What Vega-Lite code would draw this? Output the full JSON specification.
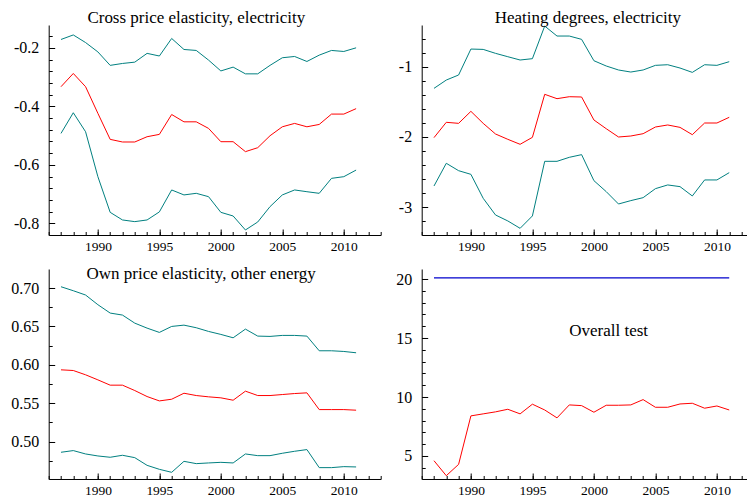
{
  "$schema": "https://vega.github.io/schema/vega-lite/v6.json",
  "padding": {"left": 10.7, "top": 8, "right": 0, "bottom": 0},
  "background": "white",
  "config": {
    "view": {"stroke": null},
    "font": "Liberation Serif",
    "style": {"guide-label": {"font": "Liberation Serif", "fill": "black"}},
    "axis": {"labelFont": "Liberation Serif", "labelColor": "black", "tickColor": "black", "domainColor": "black", "grid": false, "labelFontSize": 16, "tickWidth": 1, "domainWidth": 1, "title": null, "labelFlush": false, "labelOverlap": false},
    "axisX": {"labelFontSize": 13.5, "labelFont": "Liberation Serif"},
    "axisY": {"labelFont": "Liberation Serif"},
    "text": {"font": "Liberation Serif", "fontSize": 17, "color": "black"}
  },
  "bounds": "flush",
  "columns": 2,
  "spacing": {"row": 34, "column": 41},
  "datasets": {
    "p1": [
      {"year": 1987, "upper": -0.1715, "est": -0.333, "lower": -0.4926},
      {"year": 1988, "upper": -0.156, "est": -0.2877, "lower": -0.422},
      {"year": 1989, "upper": -0.182, "est": -0.333, "lower": -0.487},
      {"year": 1990, "upper": -0.214, "est": -0.424, "lower": -0.6406},
      {"year": 1991, "upper": -0.26, "est": -0.513, "lower": -0.7625},
      {"year": 1992, "upper": -0.2535, "est": -0.522, "lower": -0.7886},
      {"year": 1993, "upper": -0.249, "est": -0.522, "lower": -0.7943},
      {"year": 1994, "upper": -0.219, "est": -0.504, "lower": -0.7886},
      {"year": 1995, "upper": -0.228, "est": -0.496, "lower": -0.761},
      {"year": 1996, "upper": -0.168, "est": -0.428, "lower": -0.686},
      {"year": 1997, "upper": -0.2057, "est": -0.453, "lower": -0.703},
      {"year": 1998, "upper": -0.209, "est": -0.453, "lower": -0.6975},
      {"year": 1999, "upper": -0.242, "est": -0.4755, "lower": -0.709},
      {"year": 2000, "upper": -0.279, "est": -0.521, "lower": -0.7625},
      {"year": 2001, "upper": -0.266, "est": -0.521, "lower": -0.775},
      {"year": 2002, "upper": -0.289, "est": -0.555, "lower": -0.8228},
      {"year": 2003, "upper": -0.289, "est": -0.5415, "lower": -0.7955},
      {"year": 2004, "upper": -0.26, "est": -0.5006, "lower": -0.743},
      {"year": 2005, "upper": -0.234, "est": -0.47, "lower": -0.703},
      {"year": 2006, "upper": -0.2296, "est": -0.4585, "lower": -0.686},
      {"year": 2007, "upper": -0.2467, "est": -0.47, "lower": -0.692},
      {"year": 2008, "upper": -0.225, "est": -0.462, "lower": -0.6975},
      {"year": 2009, "upper": -0.209, "est": -0.4266, "lower": -0.6463},
      {"year": 2010, "upper": -0.2125, "est": -0.4266, "lower": -0.6406},
      {"year": 2011, "upper": -0.2, "est": -0.408, "lower": -0.618}
    ],
    "p2": [
      {"year": 1987, "upper": -1.308, "est": -2.009, "lower": -2.697},
      {"year": 1988, "upper": -1.19, "est": -1.791, "lower": -2.374},
      {"year": 1989, "upper": -1.118, "est": -1.806, "lower": -2.479},
      {"year": 1990, "upper": -0.749, "est": -1.635, "lower": -2.531},
      {"year": 1991, "upper": -0.754, "est": -1.806, "lower": -2.872},
      {"year": 1992, "upper": -0.81, "est": -1.957, "lower": -3.109},
      {"year": 1993, "upper": -0.858, "est": -2.033, "lower": -3.194},
      {"year": 1994, "upper": -0.905, "est": -2.104, "lower": -3.299},
      {"year": 1995, "upper": -0.886, "est": -2.005, "lower": -3.123},
      {"year": 1996, "upper": -0.422, "est": -1.393, "lower": -2.346},
      {"year": 1997, "upper": -0.564, "est": -1.455, "lower": -2.346},
      {"year": 1998, "upper": -0.564, "est": -1.427, "lower": -2.289},
      {"year": 1999, "upper": -0.611, "est": -1.431, "lower": -2.251},
      {"year": 2000, "upper": -0.915, "est": -1.758, "lower": -2.621},
      {"year": 2001, "upper": -0.99, "est": -1.882, "lower": -2.777},
      {"year": 2002, "upper": -1.047, "est": -2.0, "lower": -2.953},
      {"year": 2003, "upper": -1.076, "est": -1.986, "lower": -2.905},
      {"year": 2004, "upper": -1.047, "est": -1.953, "lower": -2.863},
      {"year": 2005, "upper": -0.981, "est": -1.858, "lower": -2.735},
      {"year": 2006, "upper": -0.972, "est": -1.829, "lower": -2.682},
      {"year": 2007, "upper": -1.019, "est": -1.863, "lower": -2.706},
      {"year": 2008, "upper": -1.081, "est": -1.967, "lower": -2.839},
      {"year": 2009, "upper": -0.972, "est": -1.801, "lower": -2.611},
      {"year": 2010, "upper": -0.981, "est": -1.801, "lower": -2.611},
      {"year": 2011, "upper": -0.929, "est": -1.72, "lower": -2.507}
    ],
    "p3": [
      {"year": 1987, "upper": 0.7017, "est": 0.5935, "lower": 0.4861},
      {"year": 1988, "upper": 0.6965, "est": 0.5926, "lower": 0.4883},
      {"year": 1989, "upper": 0.6909, "est": 0.587, "lower": 0.4839},
      {"year": 1990, "upper": 0.6783, "est": 0.5804, "lower": 0.4813},
      {"year": 1991, "upper": 0.6674, "est": 0.5735, "lower": 0.4796},
      {"year": 1992, "upper": 0.6648, "est": 0.5735, "lower": 0.4822},
      {"year": 1993, "upper": 0.6543, "est": 0.5665, "lower": 0.4791},
      {"year": 1994, "upper": 0.6478, "est": 0.5587, "lower": 0.4691},
      {"year": 1995, "upper": 0.6422, "est": 0.553, "lower": 0.4639},
      {"year": 1996, "upper": 0.65, "est": 0.5552, "lower": 0.46},
      {"year": 1997, "upper": 0.6517, "est": 0.563, "lower": 0.4743},
      {"year": 1998, "upper": 0.6483, "est": 0.56, "lower": 0.4713},
      {"year": 1999, "upper": 0.6435, "est": 0.5583, "lower": 0.4722},
      {"year": 2000, "upper": 0.6396, "est": 0.557, "lower": 0.473},
      {"year": 2001, "upper": 0.6352, "est": 0.5539, "lower": 0.4722},
      {"year": 2002, "upper": 0.6465, "est": 0.5657, "lower": 0.4839},
      {"year": 2003, "upper": 0.6374, "est": 0.56, "lower": 0.4817},
      {"year": 2004, "upper": 0.637, "est": 0.56, "lower": 0.4817},
      {"year": 2005, "upper": 0.6383, "est": 0.5613, "lower": 0.4848},
      {"year": 2006, "upper": 0.6383, "est": 0.5626, "lower": 0.4874},
      {"year": 2007, "upper": 0.6374, "est": 0.5635, "lower": 0.4896},
      {"year": 2008, "upper": 0.6183, "est": 0.5417, "lower": 0.4661},
      {"year": 2009, "upper": 0.6183, "est": 0.5417, "lower": 0.4661},
      {"year": 2010, "upper": 0.6174, "est": 0.5417, "lower": 0.4674},
      {"year": 2011, "upper": 0.6157, "est": 0.5409, "lower": 0.467}
    ],
    "p4": [
      {"year": 1987, "stat": 4.6, "crit": 20.09},
      {"year": 1988, "stat": 3.33, "crit": 20.09},
      {"year": 1989, "stat": 4.29, "crit": 20.09},
      {"year": 1990, "stat": 8.4, "crit": 20.09},
      {"year": 1991, "stat": 8.57, "crit": 20.09},
      {"year": 1992, "stat": 8.74, "crit": 20.09},
      {"year": 1993, "stat": 8.96, "crit": 20.09},
      {"year": 1994, "stat": 8.57, "crit": 20.09},
      {"year": 1995, "stat": 9.39, "crit": 20.09},
      {"year": 1996, "stat": 8.9, "crit": 20.09},
      {"year": 1997, "stat": 8.23, "crit": 20.09},
      {"year": 1998, "stat": 9.33, "crit": 20.09},
      {"year": 1999, "stat": 9.27, "crit": 20.09},
      {"year": 2000, "stat": 8.71, "crit": 20.09},
      {"year": 2001, "stat": 9.3, "crit": 20.09},
      {"year": 2002, "stat": 9.3, "crit": 20.09},
      {"year": 2003, "stat": 9.33, "crit": 20.09},
      {"year": 2004, "stat": 9.78, "crit": 20.09},
      {"year": 2005, "stat": 9.13, "crit": 20.09},
      {"year": 2006, "stat": 9.13, "crit": 20.09},
      {"year": 2007, "stat": 9.41, "crit": 20.09},
      {"year": 2008, "stat": 9.47, "crit": 20.09},
      {"year": 2009, "stat": 9.05, "crit": 20.09},
      {"year": 2010, "stat": 9.24, "crit": 20.09},
      {"year": 2011, "stat": 8.9, "crit": 20.09}
    ]
  },
  "concat": [
    {
      "width": 332, "height": 210,
      "data": {"name": "p1"},
      "resolve": {"axis": {"x": "independent", "y": "independent"}},
      "layer": [
        {
          "transform": [{"fold": ["upper", "lower"], "as": ["band", "bval"]}],
          "mark": {"type": "line", "color": "#008080", "strokeWidth": 1},
          "encoding": {
            "x": {"field": "year", "type": "quantitative", "scale": {"domain": [1986, 2013], "nice": false, "zero": false},
              "axis": {"orient": "bottom", "values": [1986,1987,1988,1989,1990,1991,1992,1993,1994,1995,1996,1997,1998,1999,2000,2001,2002,2003,2004,2005,2006,2007,2008,2009,2010,2011,2012,2013], "labels": false, "tickSize": -3.5}},
            "y": {"field": "bval", "type": "quantitative", "scale": {"domain": [-0.84, -0.122], "nice": false, "zero": false},
              "axis": {"orient": "left", "values": [-0.8,-0.76,-0.72,-0.68,-0.64,-0.6,-0.56,-0.52,-0.48,-0.44,-0.4,-0.36,-0.32,-0.28,-0.24,-0.2,-0.16], "labels": false, "tickSize": -3.5}},
            "detail": {"field": "band"}
          }
        },
        {
          "mark": {"type": "line", "color": "#ff0000", "strokeWidth": 1},
          "encoding": {
            "x": {"field": "year", "type": "quantitative", "scale": {"domain": [1986, 2013], "nice": false, "zero": false},
              "axis": {"orient": "bottom", "values": [1990, 1995, 2000, 2005, 2010], "tickSize": -6, "domain": false, "labelPadding": 11, "labelFont": "Liberation Serif", "labelFontSize": 13.5, "labelExpr": "'' + datum.value"}},
            "y": {"field": "est", "type": "quantitative", "scale": {"domain": [-0.84, -0.122], "nice": false, "zero": false},
              "axis": {"orient": "left", "values": [-0.8, -0.6, -0.4, -0.2], "tickSize": -6, "domain": false, "labelPadding": 16, "labelFont": "Liberation Serif", "labelFontSize": 16, "labelExpr": "'' + datum.value"}}
          }
        },
        {
          "data": {"values": [{"year": 1998.0, "value": -0.1146, "label": "Cross price elasticity, electricity"}]},
          "mark": {"type": "text", "align": "center", "baseline": "alphabetic", "font": "Liberation Serif", "fontSize": 17},
          "encoding": {
            "x": {"field": "year", "type": "quantitative", "scale": {"domain": [1986, 2013], "nice": false, "zero": false}, "axis": null},
            "y": {"field": "value", "type": "quantitative", "scale": {"domain": [-0.84, -0.122], "nice": false, "zero": false}, "axis": null},
            "text": {"field": "label"}
          }
        }
      ]
    },
    {
      "width": 325, "height": 210,
      "data": {"name": "p2"},
      "resolve": {"axis": {"x": "independent", "y": "independent"}},
      "layer": [
        {
          "transform": [{"fold": ["upper", "lower"], "as": ["band", "bval"]}],
          "mark": {"type": "line", "color": "#008080", "strokeWidth": 1},
          "encoding": {
            "x": {"field": "year", "type": "quantitative", "scale": {"domain": [1986, 2012.42], "nice": false, "zero": false},
              "axis": {"orient": "bottom", "values": [1986,1987,1988,1989,1990,1991,1992,1993,1994,1995,1996,1997,1998,1999,2000,2001,2002,2003,2004,2005,2006,2007,2008,2009,2010,2011,2012], "labels": false, "tickSize": -3.5}},
            "y": {"field": "bval", "type": "quantitative", "scale": {"domain": [-3.394, -0.407], "nice": false, "zero": false},
              "axis": {"orient": "left", "values": [-3.2,-3,-2.8,-2.6,-2.4,-2.2,-2,-1.8,-1.6,-1.4,-1.2,-1,-0.8,-0.6], "labels": false, "tickSize": -3.5}},
            "detail": {"field": "band"}
          }
        },
        {
          "mark": {"type": "line", "color": "#ff0000", "strokeWidth": 1},
          "encoding": {
            "x": {"field": "year", "type": "quantitative", "scale": {"domain": [1986, 2012.42], "nice": false, "zero": false},
              "axis": {"orient": "bottom", "values": [1990, 1995, 2000, 2005, 2010], "tickSize": -6, "domain": false, "labelPadding": 11, "labelFont": "Liberation Serif", "labelFontSize": 13.5, "labelExpr": "'' + datum.value"}},
            "y": {"field": "est", "type": "quantitative", "scale": {"domain": [-3.394, -0.407], "nice": false, "zero": false},
              "axis": {"orient": "left", "values": [-3, -2, -1], "tickSize": -6, "domain": false, "labelPadding": 16, "labelFont": "Liberation Serif", "labelFontSize": 16, "labelExpr": "'' + datum.value"}}
          }
        },
        {
          "data": {"values": [{"year": 1999.5, "value": -0.374, "label": "Heating degrees, electricity"}]},
          "mark": {"type": "text", "align": "center", "baseline": "alphabetic", "font": "Liberation Serif", "fontSize": 17},
          "encoding": {
            "x": {"field": "year", "type": "quantitative", "scale": {"domain": [1986, 2012.42], "nice": false, "zero": false}, "axis": null},
            "y": {"field": "value", "type": "quantitative", "scale": {"domain": [-3.394, -0.407], "nice": false, "zero": false}, "axis": null},
            "text": {"field": "label"}
          }
        }
      ]
    },
    {
      "width": 332, "height": 210,
      "data": {"name": "p3"},
      "resolve": {"axis": {"x": "independent", "y": "independent"}},
      "layer": [
        {
          "transform": [{"fold": ["upper", "lower"], "as": ["band", "bval"]}],
          "mark": {"type": "line", "color": "#008080", "strokeWidth": 1},
          "encoding": {
            "x": {"field": "year", "type": "quantitative", "scale": {"domain": [1986, 2013], "nice": false, "zero": false},
              "axis": {"orient": "bottom", "values": [1986,1987,1988,1989,1990,1991,1992,1993,1994,1995,1996,1997,1998,1999,2000,2001,2002,2003,2004,2005,2006,2007,2008,2009,2010,2011,2012,2013], "labels": false, "tickSize": -3.5}},
            "y": {"field": "bval", "type": "quantitative", "scale": {"domain": [0.4513, 0.7248], "nice": false, "zero": false},
              "axis": {"orient": "left", "values": [0.475,0.5,0.525,0.55,0.575,0.6,0.625,0.65,0.675,0.7], "labels": false, "tickSize": -3.5}},
            "detail": {"field": "band"}
          }
        },
        {
          "mark": {"type": "line", "color": "#ff0000", "strokeWidth": 1},
          "encoding": {
            "x": {"field": "year", "type": "quantitative", "scale": {"domain": [1986, 2013], "nice": false, "zero": false},
              "axis": {"orient": "bottom", "values": [1990, 1995, 2000, 2005, 2010], "tickSize": -6, "domain": false, "labelPadding": 11, "labelFont": "Liberation Serif", "labelFontSize": 13.5, "labelExpr": "'' + datum.value"}},
            "y": {"field": "est", "type": "quantitative", "scale": {"domain": [0.4513, 0.7248], "nice": false, "zero": false},
              "axis": {"orient": "left", "values": [0.5, 0.55, 0.6, 0.65, 0.7], "tickSize": -6, "domain": false, "labelPadding": 16, "labelFont": "Liberation Serif", "labelFontSize": 16, "labelExpr": "format(datum.value, '.2f')"}}
          }
        },
        {
          "data": {"values": [{"year": 1998.4, "value": 0.7117, "label": "Own price elasticity, other energy"}]},
          "mark": {"type": "text", "align": "center", "baseline": "alphabetic", "font": "Liberation Serif", "fontSize": 17},
          "encoding": {
            "x": {"field": "year", "type": "quantitative", "scale": {"domain": [1986, 2013], "nice": false, "zero": false}, "axis": null},
            "y": {"field": "value", "type": "quantitative", "scale": {"domain": [0.4513, 0.7248], "nice": false, "zero": false}, "axis": null},
            "text": {"field": "label"}
          }
        }
      ]
    },
    {
      "width": 325, "height": 210,
      "data": {"name": "p4"},
      "resolve": {"axis": {"x": "independent", "y": "independent"}},
      "layer": [
        {
          "mark": {"type": "line", "color": "#0000cc", "strokeWidth": 1.2},
          "encoding": {
            "x": {"field": "year", "type": "quantitative", "scale": {"domain": [1986, 2012.42], "nice": false, "zero": false},
              "axis": {"orient": "bottom", "values": [1986,1987,1988,1989,1990,1991,1992,1993,1994,1995,1996,1997,1998,1999,2000,2001,2002,2003,2004,2005,2006,2007,2008,2009,2010,2011,2012], "labels": false, "tickSize": -3.5}},
            "y": {"field": "crit", "type": "quantitative", "scale": {"domain": [3.05, 20.85], "nice": false, "zero": false},
              "axis": {"orient": "left", "values": [4,5,6,7,8,9,10,11,12,13,14,15,16,17,18,19,20], "labels": false, "tickSize": -3.5}}
          }
        },
        {
          "mark": {"type": "line", "color": "#ff0000", "strokeWidth": 1},
          "encoding": {
            "x": {"field": "year", "type": "quantitative", "scale": {"domain": [1986, 2012.42], "nice": false, "zero": false},
              "axis": {"orient": "bottom", "values": [1990, 1995, 2000, 2005, 2010], "tickSize": -6, "domain": false, "labelPadding": 11, "labelFont": "Liberation Serif", "labelFontSize": 13.5, "labelExpr": "'' + datum.value"}},
            "y": {"field": "stat", "type": "quantitative", "scale": {"domain": [3.05, 20.85], "nice": false, "zero": false},
              "axis": {"orient": "left", "values": [5, 10, 15, 20], "tickSize": -6, "domain": false, "labelPadding": 16, "labelFont": "Liberation Serif", "labelFontSize": 16, "labelExpr": "'' + datum.value"}}
          }
        },
        {
          "data": {"values": [{"year": 2001.2, "value": 15.13, "label": "Overall test"}]},
          "mark": {"type": "text", "align": "center", "baseline": "alphabetic", "font": "Liberation Serif", "fontSize": 17},
          "encoding": {
            "x": {"field": "year", "type": "quantitative", "scale": {"domain": [1986, 2012.42], "nice": false, "zero": false}, "axis": null},
            "y": {"field": "value", "type": "quantitative", "scale": {"domain": [3.05, 20.85], "nice": false, "zero": false}, "axis": null},
            "text": {"field": "label"}
          }
        }
      ]
    }
  ]
}
